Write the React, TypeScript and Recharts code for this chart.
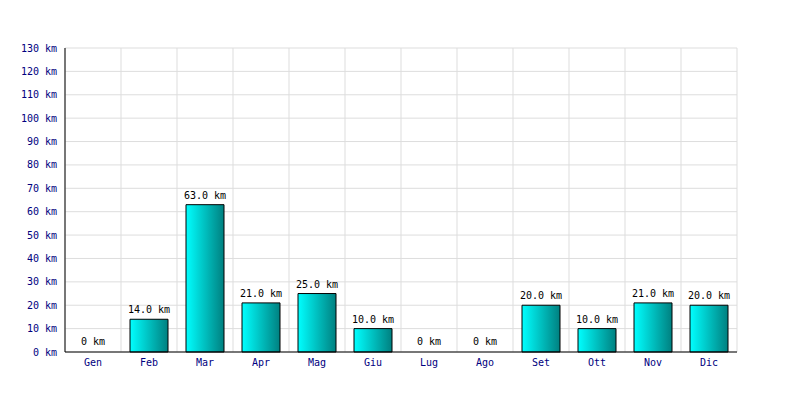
import React from 'react';
import { BarChart, Bar, XAxis, YAxis, CartesianGrid, LabelList, Cell } from 'recharts';

const months = ['Gen', 'Feb', 'Mar', 'Apr', 'Mag', 'Giu', 'Lug', 'Ago', 'Set', 'Ott', 'Nov', 'Dic'];
const distances = [0, 14, 63, 21, 25, 10, 0, 0, 20, 10, 21, 20];
const yTicks = [0, 10, 20, 30, 40, 50, 60, 70, 80, 90, 100, 110, 120, 130];

const data = months.map((m, i) => ({ month: m, km: distances[i] }));

const FONT = '"DejaVu Sans Mono", monospace';

const fmtLabel = (v: any) => (v === 0 ? '0 km' : `${Number(v).toFixed(1)} km`);

// etichetta sopra la barra, senza limite di larghezza (niente a capo)
const TopLabel = (props: any) => {
  const { x, y, width, value } = props;
  return (
    <text
      x={Number(x) + Number(width) / 2}
      y={Number(y) - 6}
      textAnchor="middle"
      fill="#000"
      fontSize={10}
      fontFamily={FONT}
    >
      {fmtLabel(value)}
    </text>
  );
};

const App: React.FC = () => {
  return (
    <div style={{ position: 'absolute', left: 0, top: 0, width: 800, height: 400, background: '#fff' }}>
      <BarChart
        width={800}
        height={400}
        data={data}
        margin={{ top: 48, right: 63, left: 0, bottom: 0 }}
        barSize={38}
      >
        <defs>
          <linearGradient id="barFill" x1="0" y1="0" x2="1" y2="0">
            <stop offset="0%" stopColor="#00ffff" />
            <stop offset="100%" stopColor="#008080" />
          </linearGradient>
        </defs>
        <CartesianGrid
          stroke="#dddddd"
          verticalCoordinatesGenerator={({ offset }: any) =>
            Array.from({ length: months.length + 1 }, (_, i) => offset.left + (i * offset.width) / months.length)
          }
        />
        <XAxis
          dataKey="month"
          stroke="#000"
          tickLine={false}
          tickSize={5}
          height={48}
          tick={{ fill: '#000080', fontSize: 10, fontFamily: FONT }}
        />
        <YAxis
          domain={[0, 130]}
          ticks={yTicks}
          interval={0}
          width={65}
          stroke="#000"
          tickLine={false}
          tickFormatter={(v) => `${v} km`}
          tick={{ fill: '#000080', fontSize: 10, fontFamily: FONT }}
        />
        <Bar
          dataKey="km"
          fill="url(#barFill)"
          stroke="#000"
          strokeWidth={1}
          minPointSize={1}
          isAnimationActive={false}
        >
          {data.map((d, i) => (
            <Cell
              key={`c-${i}`}
              fill={d.km === 0 ? 'none' : 'url(#barFill)'}
              stroke={d.km === 0 ? 'none' : '#000'}
            />
          ))}
          <LabelList dataKey="km" content={TopLabel} />
        </Bar>
      </BarChart>
    </div>
  );
};

export default App;
